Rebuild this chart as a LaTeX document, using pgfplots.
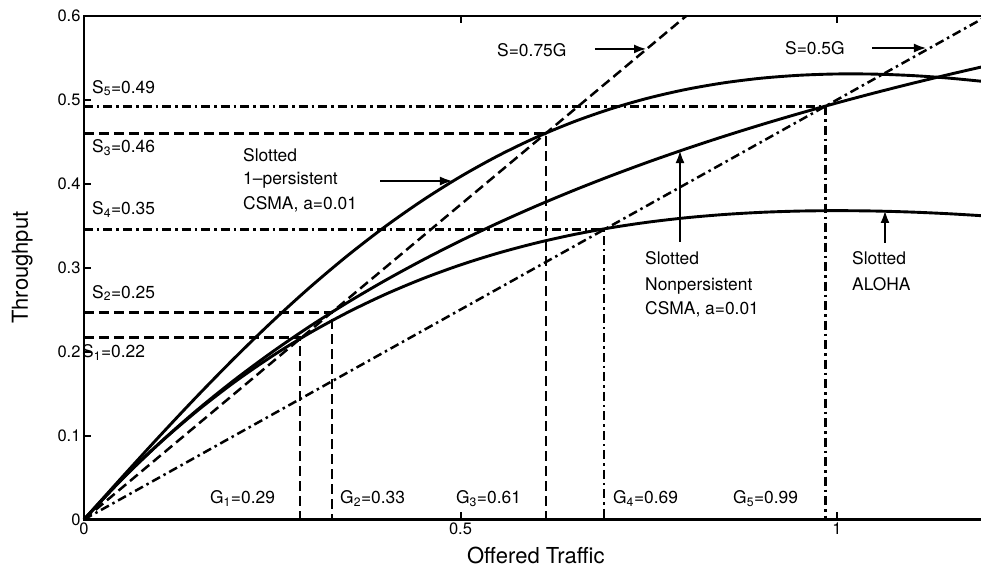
\documentclass[border=0pt]{standalone}
\usepackage{fontspec}
\setmainfont{TeX Gyre Heros}
\usepackage{pgfplots}
\usepackage{pgfplotstable}
\pgfplotsset{compat=1.18}
\usetikzlibrary{arrows.meta}

\pgfplotstableread{
G     aloha   np      op
0     0       0       0
0.05  0.04756 0.04760 0.04985
0.1   0.09048 0.09082 0.09895
0.15  0.12911 0.13025 0.14665
0.2   0.16375 0.16636 0.19244
0.25  0.19470 0.19955 0.23586
0.3   0.22225 0.23016 0.27657
0.35  0.24664 0.25847 0.31433
0.4   0.26813 0.28473 0.34895
0.45  0.28693 0.30916 0.38034
0.5   0.30327 0.33194 0.40845
0.55  0.31732 0.35323 0.43332
0.6   0.32929 0.37317 0.45500
0.65  0.33933 0.39188 0.47361
0.7   0.34761 0.40947 0.48926
0.75  0.35428 0.42604 0.50214
0.8   0.35946 0.44167 0.51238
0.85  0.36330 0.45645 0.52017
0.9   0.36591 0.47042 0.52571
0.95  0.36740 0.48367 0.52915
1.0   0.36788 0.49624 0.53070
1.05  0.36744 0.50818 0.53052
1.1   0.36616 0.51954 0.52879
1.15  0.36413 0.53036 0.52564
1.2   0.36143 0.54068 0.52127
}\curves

\tikzset{
  mydash/.style={line width=2.5pt, dash pattern=on 10pt off 5pt},
  mydashdot/.style={line width=2.5pt, dash pattern=on 9pt off 4pt on 2.5pt off 4pt},
  myarrow/.style={line width=2.6pt, -{Latex[length=13pt,width=9pt]}},
  ann/.style={font=\fontsize{17.4}{20}\selectfont, inner sep=0pt},
}

\begin{document}
\begin{tikzpicture}
\begin{axis}[
  scale only axis,
  width=903.6pt, height=503.7pt,
  xmin=0, xmax=1.2, ymin=0, ymax=0.6,
  xtick={0,0.5,1},
  ytick={0,0.1,0.2,0.3,0.4,0.5,0.6},
  tick align=inside,
  major tick length=7pt,
  axis line style={line width=2.4pt},
  every tick/.style={line width=2pt, black},
  tick label style={font=\fontsize{16.5}{18}\selectfont},
  /pgf/number format/assume math mode=true,
  clip=false,
]
\coordinate (ll) at (rel axis cs:0,0);
\coordinate (ur) at (rel axis cs:1,1);

% curves
\addplot[line width=2.9pt, smooth] table[x=G, y=aloha] {\curves};
\addplot[line width=2.9pt, smooth] table[x=G, y=np] {\curves};
\addplot[line width=2.9pt, smooth] table[x=G, y=op] {\curves};

% reference lines
\addplot[mydash] coordinates {(0,0) (0.8,0.6)};
\addplot[mydashdot] coordinates {(0,0) (1.2,0.6)};

\addplot[mydash] coordinates {(0,0.2170) (0.2869,0.2170) (0.2869,0)};
\addplot[mydash] coordinates {(0,0.2468) (0.3293,0.2468) (0.3293,0)};
\addplot[mydash] coordinates {(0,0.4600) (0.6135,0.4600) (0.6135,0)};
\addplot[mydashdot] coordinates {(0,0.3457) (0.6906,0.3457) (0.6906,0)};
\addplot[mydashdot] coordinates {(0,0.4917) (0.9850,0.4917) (0.9850,0)};

% arrows
\addplot[myarrow] coordinates {(0.6786,0.5605) (0.7477,0.5605)};
\addplot[myarrow] coordinates {(1.0465,0.5616) (1.1195,0.5616)};
\addplot[myarrow] coordinates {(0.3931,0.4032) (0.4900,0.4032)};
\addplot[myarrow] coordinates {(0.7915,0.3306) (0.7915,0.4401)};
\addplot[myarrow] coordinates {(1.0637,0.3294) (1.0637,0.3687)};

% S labels
\node[ann, anchor=base west] at (axis cs:0.0106,0.508) {S\textsubscript{5}=0.49};
\node[ann, anchor=base west] at (axis cs:0.0106,0.4366) {S\textsubscript{3}=0.46};
\node[ann, anchor=base west] at (axis cs:0.0106,0.3633) {S\textsubscript{4}=0.35};
\node[ann, anchor=base west] at (axis cs:0.0106,0.2638) {S\textsubscript{2}=0.25};
\node[ann, anchor=base west] at (axis cs:-0.0027,0.1924) {S\textsubscript{1}=0.22};

% G labels
\node[ann, anchor=base west] at (axis cs:0.1673,0.01846) {G\textsubscript{1}=0.29};
\node[ann, anchor=base west] at (axis cs:0.3400,0.01846) {G\textsubscript{2}=0.33};
\node[ann, anchor=base west] at (axis cs:0.4940,0.01846) {G\textsubscript{3}=0.61};
\node[ann, anchor=base west] at (axis cs:0.7025,0.01846) {G\textsubscript{4}=0.69};
\node[ann, anchor=base west] at (axis cs:0.8619,0.01846) {G\textsubscript{5}=0.99};

% line labels
\node[ann, anchor=base west] at (axis cs:0.5485,0.5521) {S=0.75G};
\node[ann, anchor=base west] at (axis cs:0.9309,0.5533) {S=0.5G};

% curve labels
\node[ann, anchor=base west] at (axis cs:0.2112,0.4270) {Slotted};
\node[ann, anchor=base west] at (axis cs:0.2112,0.3985) {1--persistent};
\node[ann, anchor=base west] at (axis cs:0.2112,0.3687) {CSMA, a=0.01};

\node[ann, anchor=base west] at (axis cs:0.745,0.3032) {Slotted};
\node[ann, anchor=base west] at (axis cs:0.745,0.2733) {Nonpersistent};
\node[ann, anchor=base west] at (axis cs:0.745,0.2436) {CSMA, a=0.01};

\node[ann, anchor=base west] at (axis cs:1.0199,0.3032) {Slotted};
\node[ann, anchor=base west] at (axis cs:1.0199,0.2733) {ALOHA};

% axis labels
\node[font=\fontsize{22}{24}\selectfont, anchor=base, inner sep=0pt] at ([yshift=-44.5pt]axis description cs:0.5,0) {Offered Traffic};
\node[font=\fontsize{22}{24}\selectfont, xshift=-56pt, rotate=90, anchor=base, inner sep=0pt] at (axis description cs:0,0.5) {Throughput};
\end{axis}
\pgfresetboundingbox
\path[use as bounding box] ([shift={(-84pt,-48.5pt)}]ll) rectangle ([shift={(-6.6pt,15.8pt)}]ur);
\end{tikzpicture}
\end{document}
